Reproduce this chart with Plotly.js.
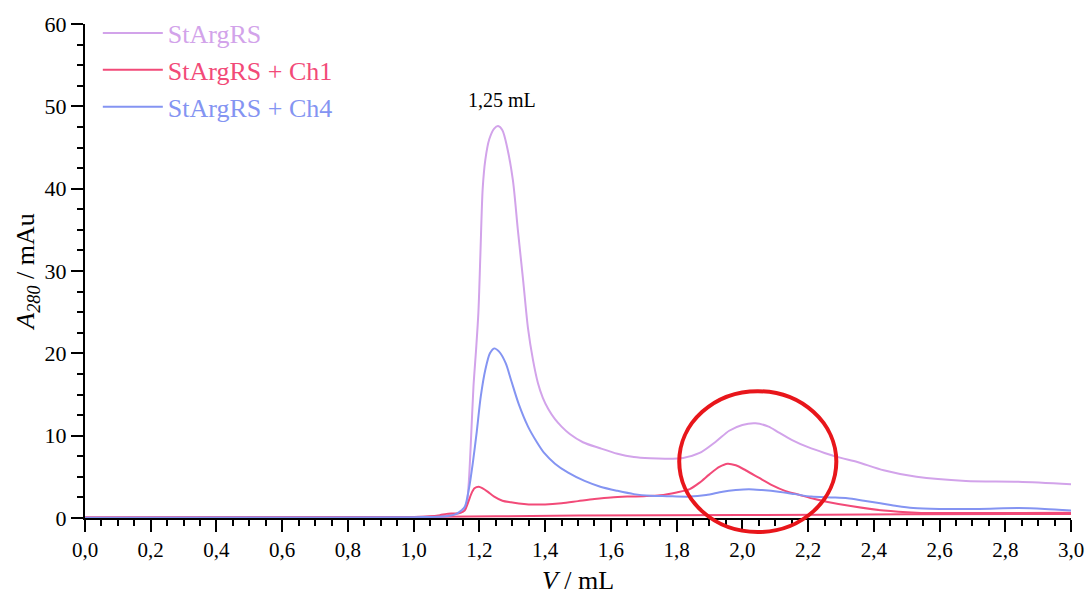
<!DOCTYPE html>
<html>
<head>
<meta charset="utf-8">
<script src="https://cdn.plot.ly/plotly-3.0.1.min.js"></script>
<style>
  html, body { margin: 0; padding: 0; background: #fff; }
  #chart { width: 1088px; height: 595px; }
</style>
</head>
<body>
<div id="chart"></div>
<script>
// Elution volume (mL) and absorbance at 280 nm (mAu) for each run
const xStArgRS = [0, 0.5, 1.0, 1.1, 1.14, 1.155, 1.162, 1.168, 1.175, 1.182, 1.19, 1.197, 1.203, 1.21, 1.218, 1.23, 1.245, 1.257, 1.27, 1.284, 1.302, 1.317, 1.333, 1.348, 1.363, 1.378, 1.393, 1.41, 1.43, 1.45, 1.475, 1.515, 1.565, 1.62, 1.67, 1.72, 1.77, 1.82, 1.87, 1.92, 1.96, 2.0, 2.04, 2.08, 2.11, 2.15, 2.2, 2.25, 2.3, 2.35, 2.43, 2.53, 2.68, 2.84, 3.0];
const yStArgRS = [0.05, 0.08, 0.12, 0.3, 0.6, 1.0, 1.8, 4.5, 10, 16, 20.5, 25, 32, 40, 43.5, 46, 47.3, 47.6, 47.1, 45.1, 41, 35, 28.9, 23.0, 19.2, 16.4, 14.6, 13.2, 12.0, 11.1, 10.2, 9.2, 8.5, 7.8, 7.4, 7.25, 7.2, 7.3, 7.9, 9.3, 10.6, 11.3, 11.5, 11.1, 10.4, 9.5, 8.6, 7.9, 7.3, 6.8, 5.8, 5.0, 4.5, 4.4, 4.1];

const xCh1 = [0, 0.5, 1.0, 1.05, 1.08, 1.1, 1.12, 1.14, 1.155, 1.165, 1.175, 1.185, 1.198, 1.21, 1.225, 1.245, 1.27, 1.296, 1.32, 1.35, 1.4, 1.45, 1.5, 1.55, 1.6, 1.65, 1.7, 1.75, 1.8, 1.84, 1.87, 1.9, 1.93, 1.955, 1.98, 2.01, 2.05, 2.09, 2.13, 2.175, 2.22, 2.26, 2.33, 2.43, 2.53, 2.63, 2.73, 2.85, 3.0];
const yCh1 = [0.05, 0.08, 0.12, 0.2, 0.35, 0.5, 0.55, 0.6, 0.9, 1.8, 2.9, 3.6, 3.8, 3.6, 3.2, 2.6, 2.1, 1.9, 1.75, 1.65, 1.65, 1.8, 2.05, 2.3, 2.5, 2.6, 2.65, 2.75, 3.1, 3.5, 4.3, 5.3, 6.2, 6.6, 6.4, 5.8, 4.9, 4.0, 3.3, 2.8, 2.3, 1.95, 1.45, 0.9, 0.65, 0.6, 0.6, 0.62, 0.65];

const xCh1Base = [0, 0.5, 1.0, 1.5, 2.0, 2.5, 3.0];
const yCh1Base = [0.02, 0.06, 0.12, 0.3, 0.36, 0.45, 0.5];

const xCh4 = [0, 0.5, 1.0, 1.1, 1.13, 1.145, 1.156, 1.168, 1.18, 1.192, 1.204, 1.218, 1.232, 1.245, 1.26, 1.28, 1.296, 1.32, 1.348, 1.375, 1.397, 1.43, 1.47, 1.52, 1.568, 1.62, 1.67, 1.72, 1.77, 1.84, 1.89, 1.94, 1.98, 2.02, 2.06, 2.11, 2.16, 2.21, 2.27, 2.32, 2.37, 2.42, 2.47, 2.52, 2.6, 2.72, 2.84, 2.92, 3.0];
const yCh4 = [0.02, 0.05, 0.1, 0.2, 0.5, 0.9, 1.4, 3.5, 6.7, 10.5, 14.7, 18, 20, 20.6, 20.2, 18.8, 16.8, 13.8, 11.1, 9.2, 7.9, 6.6, 5.5, 4.5, 3.8, 3.3, 2.9, 2.7, 2.65, 2.6, 2.8, 3.2, 3.4, 3.5, 3.4, 3.2, 2.9, 2.6, 2.5, 2.4, 2.1, 1.8, 1.45, 1.2, 1.1, 1.1, 1.2, 1.1, 0.9];

const xTickLabels = ['0,0', '0,2', '0,4', '0,6', '0,8', '1,0', '1,2', '1,4', '1,6', '1,8', '2,0', '2,2', '2,4', '2,6', '2,8', '3,0'];
const xTickVals = [0, 0.2, 0.4, 0.6, 0.8, 1.0, 1.2, 1.4, 1.6, 1.8, 2.0, 2.2, 2.4, 2.6, 2.8, 3.0];

// Peak label and highlighted region (data units)
const peakLabel = {x: 1.27, y: 50.8, text: '1,25 mL'};
const highlight = {x0: 1.808, x1: 2.286, y0: -1.7, y1: 15.4};

const X_RANGE = [0, 3];
const Y_RANGE = [0, 60];

const colPurple = '#d2a3ea';
const colPink = '#f24a78';
const colBlue = '#8494f2';

const serif = 'Liberation Serif';

const lineCommon = {mode: 'lines', line: {width: 2, shape: 'spline', smoothing: 0.8}, hoverinfo: 'skip'};

const traces = [
  Object.assign({}, lineCommon, {
    x: xStArgRS, y: yStArgRS, legendgroup: 'a',
    name: '<span style="color:' + colPurple + '">StArgRS</span>',
    line: Object.assign({}, lineCommon.line, {color: colPurple})
  }),
  Object.assign({}, lineCommon, {
    x: xCh1Base, y: yCh1Base, legendgroup: 'b', showlegend: false,
    name: 'Ch1',
    line: Object.assign({}, lineCommon.line, {color: colPink})
  }),
  Object.assign({}, lineCommon, {
    x: xCh1, y: yCh1, legendgroup: 'b',
    name: '<span style="color:' + colPink + '">StArgRS + Ch1</span>',
    line: Object.assign({}, lineCommon.line, {color: colPink})
  }),
  Object.assign({}, lineCommon, {
    x: xCh4, y: yCh4, legendgroup: 'c',
    name: '<span style="color:' + colBlue + '">StArgRS + Ch4</span>',
    line: Object.assign({}, lineCommon.line, {color: colBlue})
  })
];

// convert a data-space box into paper coordinates so the outline is not clipped by the plot area
function toPaperX(v) { return (v - X_RANGE[0]) / (X_RANGE[1] - X_RANGE[0]); }
function toPaperY(v) { return (v - Y_RANGE[0]) / (Y_RANGE[1] - Y_RANGE[0]); }

const layout = {
  width: 1088, height: 595,
  margin: {l: 85, r: 17, t: 24, b: 77, autoexpand: false},
  paper_bgcolor: '#fff', plot_bgcolor: '#fff',
  font: {family: serif, color: '#000'},
  showlegend: true,
  legend: {
    x: 0.013, y: 1.029, xanchor: 'left', yanchor: 'top',
    bgcolor: 'rgba(0,0,0,0)',
    font: {family: serif, size: 26},
    itemwidth: 60, tracegroupgap: 16,
    traceorder: 'normal'
  },
  xaxis: {
    range: X_RANGE,
    tickmode: 'array', tickvals: xTickVals, ticktext: xTickLabels,
    ticks: 'outside', ticklen: 12, tickwidth: 2, tickcolor: '#000',
    minor: {dtick: 0.05, tick0: 0, ticks: 'outside', ticklen: 6, tickwidth: 2, tickcolor: '#000'},
    showline: true, linewidth: 2, linecolor: '#000',
    showgrid: false, zeroline: false,
    tickfont: {family: serif, size: 21, color: '#000'},
    title: {text: '<i>V</i> / mL', font: {family: serif, size: 26, color: '#000'}, standoff: 12}
  },
  yaxis: {
    range: Y_RANGE,
    tick0: 0, dtick: 10,
    ticks: 'outside', ticklen: 12, tickwidth: 2, tickcolor: '#000',
    minor: {dtick: 2.5, tick0: 0, ticks: 'outside', ticklen: 6, tickwidth: 2, tickcolor: '#000'},
    showline: true, linewidth: 2, linecolor: '#000',
    showgrid: false, zeroline: false,
    tickfont: {family: serif, size: 22, color: '#000'},
    title: {text: '<i>A</i><sub><i>280</i></sub> / mAu', font: {family: serif, size: 26, color: '#000'}, standoff: 2}
  },
  annotations: [{
    x: peakLabel.x, y: peakLabel.y, xref: 'x', yref: 'y',
    text: peakLabel.text, showarrow: false,
    font: {family: serif, size: 20, color: '#000'}
  }],
  shapes: [{
    type: 'circle', xref: 'paper', yref: 'paper',
    x0: toPaperX(highlight.x0), x1: toPaperX(highlight.x1),
    y0: toPaperY(highlight.y0), y1: toPaperY(highlight.y1),
    line: {color: '#e8161b', width: 4},
    layer: 'above'
  }]
};

Plotly.newPlot('chart', traces, layout, {displayModeBar: false, staticPlot: true});
</script>
</body>
</html>
